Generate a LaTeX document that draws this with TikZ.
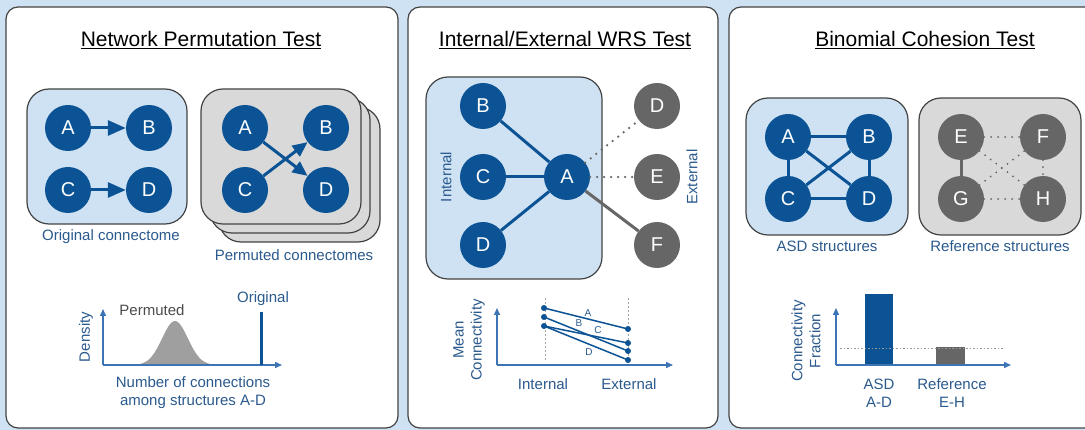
\documentclass[tikz,border=0pt]{standalone}
\usepackage{fontspec}
\setmainfont{Liberation Sans}
\usetikzlibrary{arrows.meta}
\definecolor{bgblue}{HTML}{CFE2F3}
\definecolor{nodeblue}{HTML}{0B5394}
\definecolor{nodegrey}{HTML}{666666}
\definecolor{boxgrey}{HTML}{D9D9D9}
\definecolor{txtblue}{HTML}{2B5A8E}
\definecolor{axisblue}{HTML}{3D74B5}
\definecolor{bordergrey}{HTML}{434343}
\tikzset{
  panel/.style={draw=bordergrey, line width=1.2, fill=white, rounded corners=12},
  bluebox/.style={draw=bordergrey, line width=1.2, fill=bgblue, rounded corners=22},
  greybox/.style={draw=bordergrey, line width=1.2, fill=boxgrey, rounded corners=22},
  bnode/.style={circle, fill=nodeblue, minimum size=46, inner sep=0, text=white, font=\fontsize{20}{24}\selectfont},
  gnode/.style={circle, fill=nodegrey, minimum size=46, inner sep=0, text=white, font=\fontsize{20}{24}\selectfont},
  titletext/.style={font=\fontsize{21}{25}\selectfont, text=black},
  lbl/.style={text=txtblue, font=\fontsize{15}{18}\selectfont, align=center},
  smalllbl/.style={text=txtblue, font=\fontsize{10}{12}\selectfont, inner sep=1},
  bedge/.style={draw=nodeblue, line width=3},
  gedge/.style={draw=nodegrey, line width=3},
  dotedge/.style={draw=nodegrey, line width=2.5, dash pattern=on 0pt off 7pt, line cap=round},
  barrow/.style={draw=nodeblue, line width=3, -{Triangle[length=18, width=15]}},
  carrow/.style={draw=nodeblue, line width=3, -{Triangle[length=15, width=13]}},
  axisline/.style={draw=axisblue, line width=1.5, -{Triangle[length=7, width=6]}},
  guide/.style={draw=gray!70, line width=0.8, dash pattern=on 2pt off 2pt},
  dot/.style={circle, fill=nodeblue, minimum size=6, inner sep=0},
}
\begin{document}
\begin{tikzpicture}[x=1pt, y=-1pt]
\clip (0,0) rectangle (1085,430);
\fill[bgblue] (0,0) rectangle (1085,430);

% panels
\draw[panel] (6,7) rectangle (398,428);
\draw[panel] (408,7) rectangle (718,428);
\draw[panel] (729,7) rectangle (1110,428);

% ---------------- Panel 1 ----------------
\node[titletext] (t1) at (201,40) {\underline{Network Permutation Test}};

\draw[bluebox] (27,89) rectangle (187,224);
\node[bnode] (oA) at (68,128) {A};
\node[bnode] (oB) at (149,128) {B};
\node[bnode] (oC) at (68,190) {C};
\node[bnode] (oD) at (149,190) {D};
\draw[barrow] (oA) -- (oB);
\draw[barrow] (oC) -- (oD);
\node[lbl] (l1) at (111,237) {Original connectome};

\draw[greybox] (219,107) rectangle (380,242);
\draw[greybox] (210,98) rectangle (370,233);
\draw[greybox] (201,89) rectangle (361,224);
\node[bnode] (pA) at (245,128) {A};
\node[bnode] (pB) at (326,128) {B};
\node[bnode] (pC) at (245,190) {C};
\node[bnode] (pD) at (326,190) {D};
\draw[carrow] (pA) -- (pD);
\draw[carrow] (pC) -- (pB);
\node[lbl] (l2) at (294,255) {Permuted connectomes};

% density plot
\coordinate (o1) at (103,365);
\coordinate (y1) at (103,309);
\coordinate (x1) at (282,365);
\fill[gray!75] plot[domain=118:250, samples=80, smooth] (\x, {365-44*exp(-(\x-175)*(\x-175)/330)}) -- cycle;
\draw[axisline] (o1) -- (y1);
\draw[axisline] (o1) -- (x1);
\draw[draw=nodeblue, line width=3] (261,312) -- (261,365);
\node[lbl, text=black!70] (perm) at (152,310) {Permuted};
\node[lbl] (orig) at (263,299) {Original};
\node[lbl, rotate=90] (dens) at (86,337) {Density};
\node[lbl] (ncon) at (193,393) {Number of connections\\among structures A-D};

% ---------------- Panel 2 ----------------
\node[titletext] (t2) at (565,40) {\underline{Internal/External WRS Test}};
\draw[bluebox] (426,77) rectangle (602,279);
\node[bnode] (iB) at (483,106) {B};
\node[bnode] (iC) at (483,177) {C};
\node[bnode] (iA) at (567,177) {A};
\node[bnode] (iD) at (483,245) {D};
\node[gnode] (eD) at (657,106) {D};
\node[gnode] (eE) at (657,177) {E};
\node[gnode] (eF) at (657,245) {F};
\draw[bedge] (iA) -- (iB);
\draw[bedge] (iA) -- (iC);
\draw[bedge] (iA) -- (iD);
\draw[dotedge] (iA) -- (eD);
\draw[dotedge] (iA) -- (eE);
\draw[gedge] (iA) -- (eF);
\node[lbl, rotate=90] (intl) at (446,177) {Internal};
\node[lbl, rotate=90] (extl) at (692,177) {External};

% mean connectivity plot
\coordinate (o2) at (497,365);
\coordinate (y2) at (497,308);
\coordinate (x2) at (673,365);
\draw[guide] (545,298) -- (545,362);
\draw[guide] (628,298) -- (628,362);
\draw[axisline] (o2) -- (y2);
\draw[axisline] (o2) -- (x2);
\node[dot] (L1) at (544,308) {};
\node[dot] (L2) at (544,317) {};
\node[dot] (L3) at (544,326) {};
\node[dot] (R1) at (628,329) {};
\node[dot] (R2) at (628,343) {};
\node[dot] (R3) at (628,351) {};
\node[dot] (R4) at (628,360) {};
\draw[draw=nodeblue, line width=1.5] (L1.center) -- (R1.center);
\draw[draw=nodeblue, line width=1.5] (L2.center) -- (R3.center);
\draw[draw=nodeblue, line width=1.5] (L3.center) -- (R2.center);
\draw[draw=nodeblue, line width=1.5] (L3.center) -- (R4.center);
\node[smalllbl] (la) at (588,313) {A};
\node[smalllbl] (lb) at (579,323) {B};
\node[smalllbl] (lc) at (598,330) {C};
\node[smalllbl] (ld) at (589,352) {D};
\node[lbl, rotate=90] (mc) at (469,340) {Mean\\Connectivity};
\node[lbl] (inx) at (543,384) {Internal};
\node[lbl] (exx) at (629,384) {External};

% ---------------- Panel 3 ----------------
\node[titletext] (t3) at (925,40) {\underline{Binomial Cohesion Test}};
\draw[bluebox] (746,98) rectangle (908,235);
\node[bnode] (aA) at (788,137) {A};
\node[bnode] (aB) at (869,137) {B};
\node[bnode] (aC) at (788,199) {C};
\node[bnode] (aD) at (869,199) {D};
\draw[bedge] (aA) -- (aB);
\draw[bedge] (aC) -- (aD);
\draw[bedge] (aA) -- (aC);
\draw[bedge] (aB) -- (aD);
\draw[bedge] (aA) -- (aD);
\draw[bedge] (aB) -- (aC);
\node[lbl] (asdl) at (827,246) {ASD structures};

\draw[greybox] (919,98) rectangle (1081,235);
\node[gnode] (rE) at (961,137) {E};
\node[gnode] (rF) at (1043,137) {F};
\node[gnode] (rG) at (961,199) {G};
\node[gnode] (rH) at (1043,199) {H};
\draw[gedge] (rE) -- (rG);
\draw[dotedge, line width=2] (rE) -- (rF);
\draw[dotedge, line width=2] (rG) -- (rH);
\draw[dotedge, line width=2] (rE) -- (rH);
\draw[dotedge, line width=2] (rG) -- (rF);
\draw[dotedge, line width=2] (rF) -- (rH);
\node[lbl] (refl) at (1000,246) {Reference structures};

% bar chart
\coordinate (o3) at (836,365);
\coordinate (y3) at (836,308);
\coordinate (x3) at (1011,365);
\fill[nodeblue] (865,294) rectangle (893,364);
\fill[nodegrey] (936,347) rectangle (965,364);
\draw[guide, draw=gray!80, dash pattern=on 1.5pt off 2pt] (840,348) -- (1003,348);
\draw[axisline] (o3) -- (y3);
\draw[axisline] (o3) -- (x3);
\node[lbl, rotate=90] (cf) at (806,341) {Connectivity\\Fraction};
\node[lbl] (asdx) at (879,393) {ASD\\A-D};
\node[lbl] (refx) at (952,393) {Reference\\E-H};
\end{tikzpicture}
\end{document}
